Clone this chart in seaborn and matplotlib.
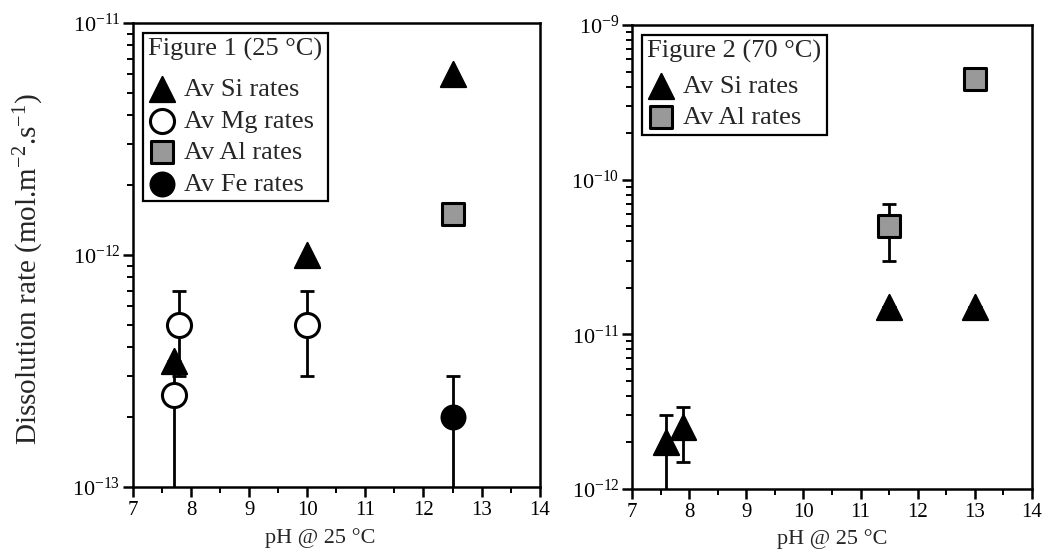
import numpy as np
import pandas as pd
import matplotlib
matplotlib.use("Agg")
import matplotlib.pyplot as plt
import matplotlib.ticker as mticker
import seaborn as sns

# ---- data ----
# Figure 1 (25 C)
f1_si_ph = [7.7, 10.0, 12.5]
f1_si_rate = [3.5e-13, 1.0e-12, 6.0e-12]
f1_mg_ph = [7.7, 7.8, 10.0]
f1_mg_rate = [2.5e-13, 5.0e-13, 5.0e-13]
f1_mg_lo = [0.8e-13, 3.0e-13, 3.0e-13]
f1_mg_hi = [3.5e-13, 7.0e-13, 7.0e-13]
f1_al_ph = [12.5]
f1_al_rate = [1.5e-12]
f1_fe_ph = [12.5]
f1_fe_rate = [2.0e-13]
f1_fe_lo = [0.8e-13]
f1_fe_hi = [3.0e-13]

# Figure 2 (70 C)
f2_si_ph = [7.6, 7.9, 11.5, 13.0]
f2_si_rate = [2.0e-12, 2.5e-12, 1.5e-11, 1.5e-11]
f2_si_lo = [0.8e-12, 1.5e-12, 1.5e-11, 1.5e-11]
f2_si_hi = [3.0e-12, 3.4e-12, 1.5e-11, 1.5e-11]
f2_al_ph = [11.5, 13.0]
f2_al_rate = [5.0e-11, 4.5e-10]
f2_al_lo = [3.0e-11, 4.5e-10]
f2_al_hi = [7.0e-11, 4.5e-10]

sns.set_style("ticks")
plt.rcParams['font.family'] = ['Liberation Serif', 'DejaVu Serif']
plt.rcParams['mathtext.fontset'] = 'custom'
plt.rcParams['mathtext.rm'] = 'Liberation Serif'
plt.rcParams['mathtext.it'] = 'Liberation Serif:italic'
plt.rcParams['axes.unicode_minus'] = False
plt.rcParams['axes.linewidth'] = 1.8
plt.rcParams['axes.edgecolor'] = 'black'
plt.rcParams['xtick.color'] = 'black'
plt.rcParams['ytick.color'] = 'black'

styles = {
    'Av Si rates': dict(marker='^', color='black', edgecolor='black', s=330),
    'Av Mg rates': dict(marker='o', color='white', edgecolor='black', s=300, linewidth=2.2),
    'Av Al rates': dict(marker='s', color='#999999', edgecolor='black', s=260, linewidth=2.2),
    'Av Fe rates': dict(marker='o', color='black', edgecolor='black', s=300),
}

def errbars(ax, x, y, lo, hi):
    y = np.array(y)
    yerr = [y - np.array(lo), np.array(hi) - y]
    ax.errorbar(x, y, yerr=yerr, fmt='none', ecolor='black', elinewidth=2,
                capsize=5, capthick=2, zorder=1)

def make_df(groups):
    rows = []
    for label, xs, ys in groups:
        for xv, yv in zip(xs, ys):
            rows.append({'pH': xv, 'rate': yv, 'kind': label})
    return pd.DataFrame(rows)

def style_axis(ax, ylo, yhi):
    ax.set_yscale('log')
    ax.set_xlim(7, 14)
    ax.set_ylim(ylo, yhi)
    ax.xaxis.set_major_locator(mticker.MultipleLocator(1))
    ax.xaxis.set_minor_locator(mticker.MultipleLocator(0.5))
    ax.yaxis.set_major_locator(mticker.FixedLocator(
        [10.0 ** k for k in range(int(np.log10(ylo)), int(np.log10(yhi)) + 1)]))
    ax.yaxis.set_minor_locator(mticker.LogLocator(base=10, subs=np.arange(2, 10)))
    ax.yaxis.set_major_formatter(mticker.LogFormatterSciNotation())
    ax.yaxis.set_minor_formatter(mticker.NullFormatter())
    ax.tick_params(which='major', direction='out', length=7, width=1.8, pad=3)
    ax.tick_params(which='minor', direction='out', length=4, width=1.4)
    ax.tick_params(axis='x', which='major', labelsize=15)
    ax.tick_params(axis='y', which='major', labelsize=16, pad=2)
    for sp in ax.spines.values():
        sp.set_visible(True)
        sp.set_color('black')
    ax.set_xlabel('pH @ 25 °C', fontsize=16, labelpad=5)

def style_legend(leg, gap):
    leg.get_frame().set_linewidth(1.6)
    leg._legend_box.align = 'left'
    leg._legend_box.sep = gap

leg_kw = dict(loc='upper left', bbox_to_anchor=(0.012, 0.99), frameon=True,
              fancybox=False, edgecolor='black', fontsize=19, title_fontsize=19,
              handletextpad=0.35, borderpad=0.2, labelspacing=0.3,
              handlelength=1.0, borderaxespad=0.2, markerscale=1.0,
              framealpha=1)

fig = plt.figure(figsize=(10.52, 5.58), dpi=100)
ax1 = fig.add_axes([0.1264, 0.1272, 0.3866, 0.8316])
ax2 = fig.add_axes([0.6008, 0.1237, 0.3802, 0.8315])

# ---- panel 1 ----
df1 = make_df([('Av Si rates', f1_si_ph, f1_si_rate),
               ('Av Mg rates', f1_mg_ph, f1_mg_rate),
               ('Av Al rates', f1_al_ph, f1_al_rate),
               ('Av Fe rates', f1_fe_ph, f1_fe_rate)])
errbars(ax1, f1_mg_ph, f1_mg_rate, f1_mg_lo, f1_mg_hi)
errbars(ax1, f1_fe_ph, f1_fe_rate, f1_fe_lo, f1_fe_hi)
for kind in ['Av Mg rates', 'Av Si rates', 'Av Al rates', 'Av Fe rates']:
    sub = df1[df1['kind'] == kind]
    sns.scatterplot(data=sub, x='pH', y='rate', ax=ax1, label=kind, zorder=3,
                    **styles[kind])
style_axis(ax1, 1e-13, 1e-11)
ax1.xaxis.set_label_coords(0.46, -0.088)
ax1.set_ylabel('Dissolution rate (mol.m$^{-2}$.s$^{-1}$)', fontsize=21)
ax1.yaxis.set_label_coords(-0.215, 0.47)
h, l = ax1.get_legend_handles_labels()
order = ['Av Si rates', 'Av Mg rates', 'Av Al rates', 'Av Fe rates']
hs = [h[l.index(o)] for o in order]
leg1 = ax1.legend(hs, order, title='Figure 1 (25 °C)', **leg_kw)
style_legend(leg1, 12)

# ---- panel 2 ----
df2 = make_df([('Av Si rates', f2_si_ph, f2_si_rate),
               ('Av Al rates', f2_al_ph, f2_al_rate)])
errbars(ax2, f2_si_ph, f2_si_rate, f2_si_lo, f2_si_hi)
errbars(ax2, f2_al_ph, f2_al_rate, f2_al_lo, f2_al_hi)
for kind in ['Av Si rates', 'Av Al rates']:
    sub = df2[df2['kind'] == kind]
    sns.scatterplot(data=sub, x='pH', y='rate', ax=ax2, label=kind, zorder=3,
                    **styles[kind])
style_axis(ax2, 1e-12, 1e-9)
ax2.set_ylabel('')
leg2 = ax2.legend(title='Figure 2 (70 °C)', **leg_kw)
style_legend(leg2, 8)

fig.savefig('out.png', dpi=100)
